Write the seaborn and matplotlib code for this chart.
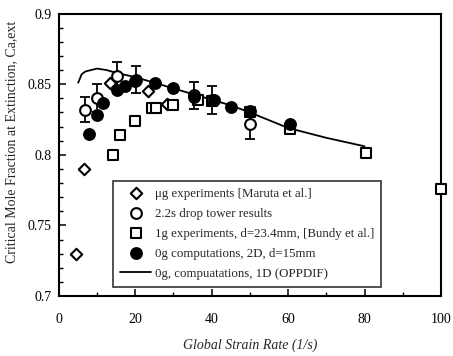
import numpy as np
import pandas as pd
import matplotlib
matplotlib.use("Agg")
import matplotlib.pyplot as plt
import seaborn as sns
from matplotlib.ticker import MultipleLocator, FuncFormatter

# micro-gravity experiments [Maruta et al.]
ug_x = [4.5, 6.5, 13.3, 23.3, 28.3]
ug_y = [0.730, 0.790, 0.851, 0.845, 0.836]

# 2.2 s drop tower results, with error bars
drop_x = [7, 10, 15.2, 20.3, 35.3, 40.1, 50.1]
drop_y = [0.832, 0.840, 0.856, 0.853, 0.842, 0.839, 0.822]
drop_err = [0.009, 0.010, 0.0095, 0.0095, 0.0095, 0.010, 0.011]

# 1g experiments, d=23.4mm [Bundy et al.]
g1_x = [14.1, 16.1, 20.0, 24.4, 25.5, 30.0, 36.5, 40.1, 50.1, 60.6, 80.3, 100.0]
g1_y = [0.800, 0.814, 0.824, 0.833, 0.833, 0.835, 0.839, 0.838, 0.830, 0.818, 0.801, 0.776]

# 0g computations, 2D
c2d_x = [8, 10, 11.7, 15.2, 17.4, 20, 25.2, 30, 35.3, 40.5, 45, 50, 60.4]
c2d_y = [0.815, 0.828, 0.837, 0.846, 0.849, 0.852, 0.851, 0.847, 0.841, 0.839, 0.834, 0.831, 0.822]

# 0g computations, 1D (OPPDIF)
c1d_x = [5.1, 6.0, 7.0, 8.5, 10, 12.5, 15, 20, 25, 30, 35, 40, 45, 50, 60, 70, 80]
c1d_y = [0.851, 0.857, 0.859, 0.860, 0.861, 0.860, 0.858, 0.855, 0.851, 0.847, 0.843, 0.839, 0.835, 0.830, 0.819, 0.812, 0.806]

labels = [
    "\u03bcg experiments [Maruta et al.]",
    "2.2s drop tower results",
    "1g experiments, d=23.4mm, [Bundy et al.]",
    "0g computations, 2D, d=15mm",
    "0g, compuatations, 1D (OPPDIF)",
]

sns.set_theme(style="white")
plt.rcParams["font.family"] = ["Liberation Serif", "DejaVu Serif"]

fig = plt.figure(figsize=(4.53, 3.56), dpi=100)
ax = fig.add_axes([0.1296, 0.1685, 0.8439, 0.7935])

ms = 60
lw = 1.5

sns.lineplot(x=c1d_x, y=c1d_y, ax=ax, color="black", linewidth=1.3,
             label=labels[4], sort=False, zorder=2)

ax.errorbar(drop_x, drop_y, yerr=drop_err, fmt="none", ecolor="black",
            elinewidth=1.3, capsize=3.5, capthick=1.3, zorder=3)

sns.scatterplot(x=ug_x, y=ug_y, ax=ax, marker="D", s=34, facecolor="white",
                edgecolor="black", linewidth=lw, label=labels[0], zorder=4)
sns.scatterplot(x=drop_x, y=drop_y, ax=ax, marker="o", s=ms, facecolor="white",
                edgecolor="black", linewidth=lw, label=labels[1], zorder=5)
sns.scatterplot(x=g1_x, y=g1_y, ax=ax, marker="s", s=ms - 8, facecolor="white",
                edgecolor="black", linewidth=lw, label=labels[2], zorder=4)
sns.scatterplot(x=c2d_x, y=c2d_y, ax=ax, marker="o", s=ms, color="black",
                edgecolor="black", linewidth=lw, label=labels[3], zorder=6)

for coll in ax.collections:
    coll.set_clip_on(False)

ax.set_xlim(0, 100)
ax.set_ylim(0.7, 0.9)
ax.xaxis.set_major_locator(MultipleLocator(20))
ax.xaxis.set_minor_locator(MultipleLocator(10))
ax.yaxis.set_major_locator(MultipleLocator(0.05))
ax.yaxis.set_minor_locator(MultipleLocator(0.01))
ax.yaxis.set_major_formatter(FuncFormatter(lambda v, p: f"{v:g}"))

ax.tick_params(which="both", direction="in", left=True, bottom=True,
               top=False, right=False, colors="black", labelsize=10)
ax.tick_params(which="major", length=5, width=1.1)
ax.tick_params(which="minor", length=3, width=1.0)
ax.tick_params(axis="x", which="major", pad=12)
ax.tick_params(axis="y", which="major", pad=5)

for sp in ax.spines.values():
    sp.set_color("black")
    sp.set_linewidth(1.5)

ax.set_xlabel("Global Strain Rate (1/s)", fontsize=10, style="italic", labelpad=9)
ax.set_ylabel("Critical Mole Fraction at Extinction, Ca,ext", fontsize=10, labelpad=5)
ax.yaxis.set_label_coords(-0.105, 0.545)

handles, labs = ax.get_legend_handles_labels()
order = [labs.index(l) for l in labels]
leg = ax.legend([handles[i] for i in order], [labs[i] for i in order],
                loc="lower left", bbox_to_anchor=(0.142, 0.032), fontsize=9.3,
                frameon=True, fancybox=False, edgecolor="black",
                handlelength=2.4, labelspacing=0.62, borderpad=0.55,
                handletextpad=0.3, borderaxespad=0)
leg.get_frame().set_linewidth(1.2)

fig.savefig("out.png", dpi=100)
